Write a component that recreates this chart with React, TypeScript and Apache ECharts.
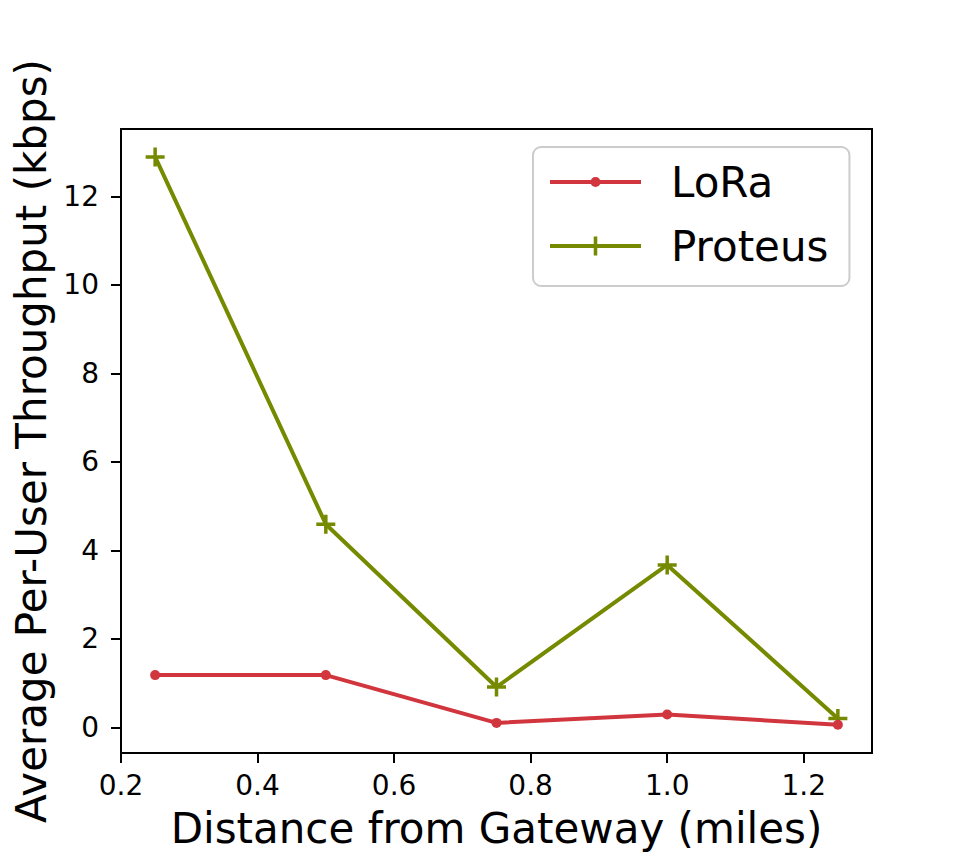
import React, { useEffect, useRef } from "react";
import * as echarts from "echarts";

const xValues = [0.25, 0.5, 0.75, 1.0, 1.25];
const loraValues = [1.18, 1.18, 0.1, 0.29, 0.06];
const proteusValues = [12.89, 4.59, 0.91, 3.67, 0.2];
const xTicks = [0.2, 0.4, 0.6, 0.8, 1.0, 1.2];
const yTicks = [0, 2, 4, 6, 8, 10, 12];
const seriesNames = ["LoRa", "Proteus"];

const RED = "#d1353e";
const GREEN = "#768a00";
const FONT = "DejaVu Sans";

const CIRCLE_SYMBOL = "path://M0,0M19,19M9.5,4.5A5,5 0 1,1 9.5,14.5A5,5 0 1,1 9.5,4.5Z";
const PLUS_SYMBOL = "path://M0,7.75H7.75V0H11.25V7.75H19V11.25H11.25V19H7.75V11.25H0Z";

export default function App() {
  const ref = useRef<HTMLDivElement>(null);
  useEffect(() => {
    document.body.style.margin = "0";
    if (!ref.current) return;
    const chart = echarts.init(ref.current, null, { renderer: "svg" });
    const axisLineStyle = { color: "#000", width: 2 };
    chart.setOption({
      animation: false,
      backgroundColor: "#fff",
      textStyle: { fontFamily: FONT },
      grid: {
        left: 121,
        top: 129,
        right: 97,
        bottom: 108,
        show: true,
        borderColor: "#000",
        borderWidth: 2,
        backgroundColor: "#fff",
      },
      legend: {
        data: seriesNames,
        orient: "vertical",
        left: 533,
        top: 147,
        itemWidth: 91,
        itemHeight: 24,
        itemGap: 20,
        padding: [13, 21, 18, 15],
        backgroundColor: "rgba(255,255,255,0.8)",
        borderColor: "#cccccc",
        borderWidth: 2,
        borderRadius: 8,
        lineStyle: { width: 4 },
        textStyle: {
          fontFamily: FONT,
          fontSize: 42,
          color: "#000",
          lineHeight: 44,
          padding: [0, 0, 0, 25],
        },
      },
      xAxis: {
        type: "value",
        min: 0.2,
        max: 1.3,
        name: "Distance from Gateway (miles)",
        nameLocation: "middle",
        nameGap: 54,
        nameTextStyle: { fontFamily: FONT, fontSize: 42, color: "#000" },
        axisLine: { show: true, onZero: false, lineStyle: axisLineStyle },
        axisTick: { show: true, customValues: xTicks, length: 10, lineStyle: axisLineStyle },
        axisLabel: {
          customValues: xTicks,
          formatter: (v: number) => v.toFixed(1),
          fontFamily: FONT,
          fontSize: 28,
          color: "#000",
          margin: 18,
        },
        splitLine: { show: false },
      },
      yAxis: {
        type: "value",
        min: -0.58,
        max: 13.52,
        name: "Average Per-User Throughput (kbps)",
        nameLocation: "middle",
        nameGap: 67,
        nameTextStyle: { fontFamily: FONT, fontSize: 42, color: "#000" },
        axisLine: { show: true, onZero: false, lineStyle: axisLineStyle },
        axisTick: { show: true, customValues: yTicks, length: 10, lineStyle: axisLineStyle },
        axisLabel: {
          customValues: yTicks,
          formatter: (v: number) => String(v),
          fontFamily: FONT,
          fontSize: 28,
          color: "#000",
          margin: 22,
        },
        splitLine: { show: false },
      },
      series: [
        {
          name: "LoRa",
          type: "line",
          z: 3,
          data: xValues.map((x, i) => [x, loraValues[i]]),
          symbol: CIRCLE_SYMBOL,
          symbolSize: 19,
          lineStyle: { color: RED, width: 4 },
          itemStyle: { color: RED, borderWidth: 0 },
          emphasis: { disabled: true },
        },
        {
          name: "Proteus",
          type: "line",
          z: 2,
          data: xValues.map((x, i) => [x, proteusValues[i]]),
          symbol: PLUS_SYMBOL,
          symbolSize: 19,
          lineStyle: { color: GREEN, width: 4 },
          itemStyle: { color: GREEN, borderWidth: 0 },
          emphasis: { disabled: true },
        },
      ],
    });
    return () => chart.dispose();
  }, []);
  return <div ref={ref} style={{ width: 969, height: 861 }} />;
}
